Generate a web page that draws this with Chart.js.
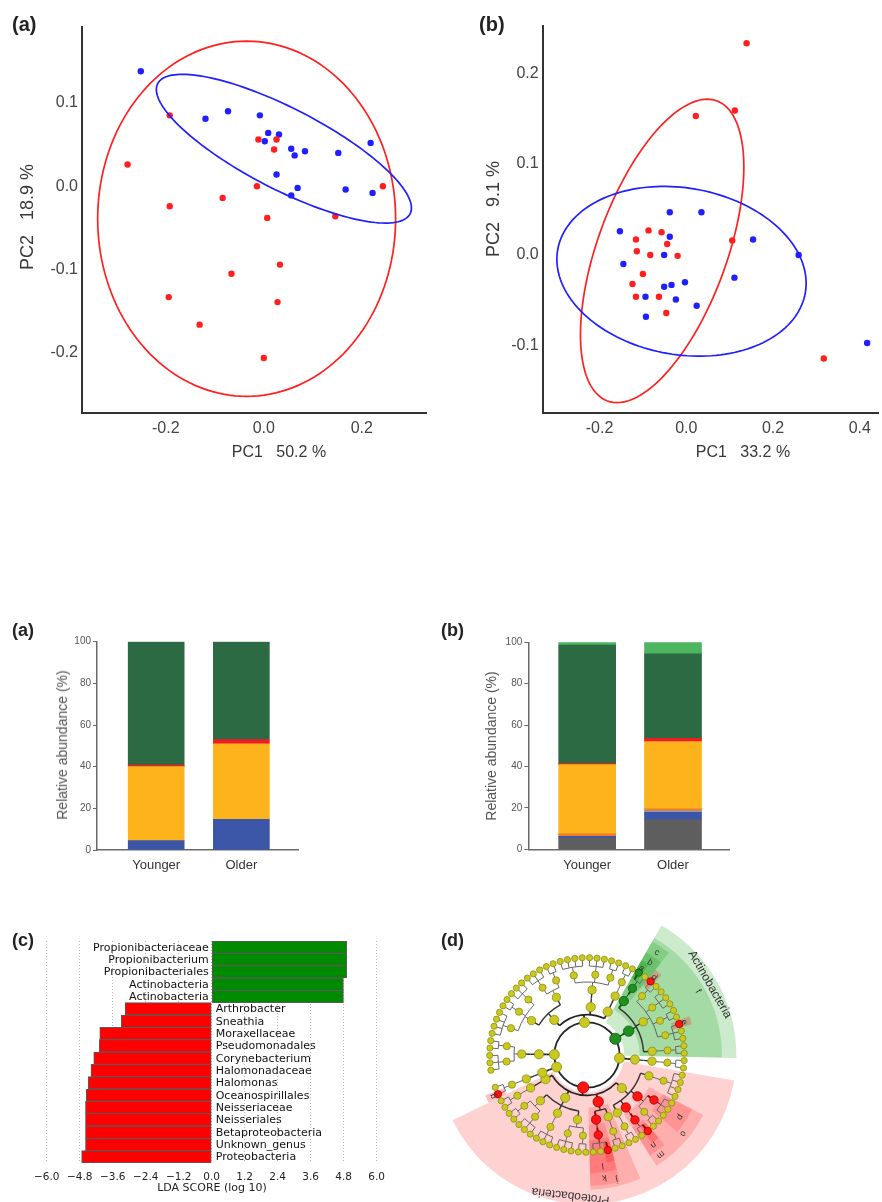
<!DOCTYPE html>
<html><head><meta charset="utf-8">
<script src="https://cdn.jsdelivr.net/npm/chart.js@4.4.1/dist/chart.umd.min.js"></script>
<style>
html,body{margin:0;padding:0;background:#fff;}
body{width:882px;height:1202px;position:relative;overflow:hidden;font-family:"Liberation Sans",Arial,sans-serif;}
canvas{position:absolute;}
.t{position:absolute;white-space:pre;line-height:1;color:#383838;}
.pl{font-weight:bold;color:#222;}
.c{transform:translate(-50%,-50%);}
.r{transform:translate(-50%,-50%) rotate(-90deg);}
</style></head><body>
<canvas id="pa" width="441" height="480" style="left:0;top:0"></canvas>
<canvas id="pb" width="441" height="480" style="left:441px;top:0"></canvas>
<canvas id="ba" width="441" height="270" style="left:0;top:610px"></canvas>
<canvas id="bb" width="441" height="270" style="left:441px;top:610px"></canvas>
<canvas id="lda" width="441" height="282" style="left:0;top:920px"></canvas>
<canvas id="clado" width="340" height="340" style="left:417px;top:885px"></canvas>

<div class="t pl" style="left:12px;top:14px;font-size:20px">(a)</div>
<div class="t pl" style="left:479px;top:14px;font-size:20px">(b)</div>
<div class="t c" style="left:279px;top:452px;font-size:16px">PC1   50.2 %</div>
<div class="t r" style="left:27px;top:217px;font-size:18px">PC2   18.9 %</div>
<div class="t c" style="left:743px;top:452px;font-size:16px">PC1   33.2 %</div>
<div class="t r" style="left:493px;top:209px;font-size:18px">PC2   9.1 %</div>

<div class="t pl" style="left:12px;top:621px;font-size:18px">(a)</div>
<div class="t pl" style="left:441px;top:621px;font-size:18px">(b)</div>
<div class="t r" style="left:62px;top:745px;font-size:14px;color:#555">Relative abundance (%)</div>
<div class="t r" style="left:491px;top:746px;font-size:14px;color:#555">Relative abundance (%)</div>

<div class="t pl" style="left:12px;top:931px;font-size:18px">(c)</div>
<div class="t pl" style="left:441px;top:931px;font-size:18px">(d)</div>
<div class="t c" style="left:212px;top:1187px;font-size:11px;font-family:'DejaVu Sans';color:#222">LDA SCORE (log 10)</div>

<script>
// ---------------- DATA ----------------
// PCA (a)
const pcaA_red = [[-0.192,0.085],[-0.278,0.026],[-0.011,0.056],[0.026,0.056],[0.021,0.044],[-0.014,0.000],[-0.084,-0.014],[-0.192,-0.024],[0.007,-0.038],[0.243,0.000],[0.146,-0.036],[0.033,-0.094],[-0.066,-0.105],[-0.194,-0.133],[0.028,-0.139],[-0.131,-0.166],[0.000,-0.206]];
const pcaA_blue = [[-0.251,0.138],[-0.119,0.081],[-0.073,0.090],[-0.008,0.085],[0.009,0.064],[0.031,0.062],[0.002,0.054],[0.056,0.045],[0.063,0.037],[0.084,0.042],[0.152,0.040],[0.218,0.052],[0.026,0.014],[0.069,-0.002],[0.056,-0.011],[0.167,-0.004],[0.222,-0.008]];
// ellipses: [centerX, centerY, axis1X, axis1Y, axis2X, axis2Y] (data units)
const pcaA_redEllipse = [-0.035,-0.039,0.304,0,0,0.213];
const pcaA_blueEllipse = [0.041,0.045,0.2575,-0.0781,-0.0378,-0.0431];
const pcaA_xTicks = [-0.2,0,0.2];
const pcaA_yTicks = [-0.2,-0.1,0,0.1];
// PCA (b)
const pcaB_red = [[0.139,0.233],[0.022,0.153],[0.112,0.159],[0.106,0.016],[-0.087,0.027],[-0.057,0.025],[-0.116,0.017],[-0.044,0.012],[-0.114,0.004],[-0.083,0.000],[-0.020,-0.001],[-0.100,-0.021],[-0.124,-0.032],[-0.116,-0.046],[-0.063,-0.046],[-0.046,-0.064],[0.317,-0.114]];
const pcaB_blue = [[-0.038,0.047],[0.035,0.047],[-0.153,0.026],[-0.038,0.020],[0.154,0.017],[-0.051,0.000],[0.259,0.000],[-0.145,-0.010],[0.111,-0.025],[-0.003,-0.030],[-0.034,-0.033],[-0.051,-0.035],[-0.094,-0.046],[-0.024,-0.049],[0.024,-0.056],[-0.093,-0.068],[0.417,-0.097]];
const pcaB_redEllipse = [-0.0556,0.0044,0.157,0,0.104,0.167];
const pcaB_blueEllipse = [-0.011,-0.018,0.287,-0.009,-0.013,0.093];
const pcaB_xTicks = [-0.2,0,0.2,0.4];
const pcaB_yTicks = [-0.1,0,0.1,0.2];

// Relative abundance bars
const barCategories = ['Younger','Older'];
const barYTicks = [0,20,40,60,80,100];
const barA_blue = [4.5,14.7];
const barA_orange = [35.5,36.3];
const barA_red = [0.8,2.0];
const barA_darkGreen = [59.2,47.0];
const barB_grey = [5.3,14.2];
const barB_blue = [1.0,3.7];
const barB_lightBlue = [0,0.6];
const barB_orangeRed = [1.2,1.0];
const barB_orange = [33.4,32.5];
const barB_red = [0.5,1.6];
const barB_darkGreen = [57.3,40.8];
const barB_lightGreen = [1.3,5.6];

// LDA
const ldaNames = ['Propionibacteriaceae','Propionibacterium','Propionibacteriales','Actinobacteria','Actinobacteria','Arthrobacter','Sneathia','Moraxellaceae','Pseudomonadales','Corynebacterium','Halomonadaceae','Halomonas','Oceanospirillales','Neisseriaceae','Neisseriales','Betaproteobacteria','Unknown_genus','Proteobacteria'];
const ldaScores = [4.91,4.91,4.91,4.79,4.79,-3.15,-3.29,-4.07,-4.09,-4.29,-4.39,-4.49,-4.56,-4.59,-4.59,-4.59,-4.59,-4.73];
const ldaTicks = [-6,-4.8,-3.6,-2.4,-1.2,0,1.2,2.4,3.6,4.8,6];

// Cladogram: nested clades, node colour y/g/r, optional :letter
const phylumNames = ['Bacteroidetes','Firmicutes','Actinobacteria','Tenericutes','Proteobacteria','Fusobacteria'];
const phylumShowName = [false,false,true,false,true,false];
const phylumTrees = [
 '((((y,y,y)y,(y,y)y)y)y)y',
 '((((y,y,y,y)y,(y,y)y,(y,y,y)y)y,((y,y,y)y,(y,y)y)y)y,(((y,y,y,y)y,(y,y,y)y,(y,y)y)y)y,(((y,y)y)y)y)y',
 '((((g:a,y)g:b)g:c,((r:d,y)y,(y,y,y)y,(y,y)y,(r:e,y,y)y)y,((y,y)y)y)g:f)g',
 '((((y,y)y)y)y)y',
 '((((y,y,y,y)y)y,((y,y,y)r:p,(y,y)y)r:o,((r,y)r:n)r:m,((y,y)y)y)y,(((y,y)y)y,((r,y,y)r:l)r:k)r:j,(((y,y)y,(y,y,y)y)y,((y,y,y)y)y,((y,y,y)y,(y,y)y)y)y,(((y,y)y)y)y)r',
 '((((r:g,y)y)y)y)y'
];

// ---------------- COMMON ----------------
const SANS = '"Liberation Sans", Arial, sans-serif';
Chart.defaults.font.family = SANS;

function ellipsePlugin(list){
  return {id:'ellipses', afterDatasetsDraw(chart){
    const ctx = chart.ctx, xs = chart.scales.x, ys = chart.scales.y;
    ctx.save();
    list.forEach(([e,col])=>{
      ctx.beginPath();
      for(let i=0;i<=160;i++){
        const t = i/160*Math.PI*2;
        const px = xs.getPixelForValue(e[0]+e[2]*Math.cos(t)+e[4]*Math.sin(t));
        const py = ys.getPixelForValue(e[1]+e[3]*Math.cos(t)+e[5]*Math.sin(t));
        if(i===0) ctx.moveTo(px,py); else ctx.lineTo(px,py);
      }
      ctx.closePath(); ctx.strokeStyle = col; ctx.lineWidth = 1.7; ctx.stroke();
    });
    ctx.restore();
  }};
}

function pca(id, red, blue, ells, xr, yr, xt, yt, area, W, H){
  const toPts = a => a.map(p=>({x:p[0],y:p[1]}));
  new Chart(document.getElementById(id), {
    type:'scatter',
    data:{datasets:[
      {data:toPts(red), backgroundColor:'#ff1f1f', pointRadius:3.2, borderWidth:0},
      {data:toPts(blue), backgroundColor:'#1f1fff', pointRadius:3.2, borderWidth:0}
    ]},
    options:{
      responsive:false, animation:false,
      layout:{padding:{left:0,right:W-area.right,top:area.top,bottom:0}},
      plugins:{legend:{display:false}, tooltip:{enabled:false}},
      scales:{
        x:{type:'linear', min:xr[0], max:xr[1],
           grid:{display:false, drawTicks:false},
           border:{display:true, color:'#333', width:2},
           ticks:{padding:6, color:'#444', font:{size:16}, callback:v=>v.toFixed(1)},
           afterBuildTicks:s=>{s.ticks = xt.map(v=>({value:v}));},
           afterFit:s=>{s.height = H-area.bottom;}},
        y:{type:'linear', min:yr[0], max:yr[1],
           grid:{display:false, drawTicks:false},
           border:{display:true, color:'#333', width:2},
           ticks:{padding:4, color:'#444', font:{size:16}, callback:v=>v.toFixed(1)},
           afterBuildTicks:s=>{s.ticks = yt.map(v=>({value:v}));},
           afterFit:s=>{s.width = area.left;}}
      }
    },
    plugins:[ellipsePlugin(ells)]
  });
}

pca('pa', pcaA_red, pcaA_blue, [[pcaA_redEllipse,'#ff2020'],[pcaA_blueEllipse,'#2020ff']],
    [-0.371,0.331], [-0.272,0.191], pcaA_xTicks, pcaA_yTicks, {left:82,right:426,top:27,bottom:413}, 441, 480);
pca('pb', pcaB_red, pcaB_blue, [[pcaB_redEllipse,'#ff2020'],[pcaB_blueEllipse,'#2020ff']],
    [-0.331,0.442], [-0.174,0.252], pcaB_xTicks, pcaB_yTicks, {left:101.7,right:441,top:26,bottom:413}, 441, 480);

// ---------------- STACKED BARS ----------------
function stacked(id, layers, xr, area, W, H, thick){
  new Chart(document.getElementById(id), {
    type:'bar',
    data:{datasets: layers.map(([vals,col])=>({
      data: vals.map((v,i)=>({x:i,y:v})), backgroundColor:col, borderWidth:0,
      barThickness:thick, stack:'s'
    }))},
    options:{
      responsive:false, animation:false,
      layout:{padding:{left:0,right:W-area.right,top:area.top,bottom:0}},
      plugins:{legend:{display:false}, tooltip:{enabled:false}},
      scales:{
        x:{type:'linear', offset:false, min:xr[0], max:xr[1],
           grid:{display:false, drawTicks:false, offset:false},
           border:{display:true, color:'#6a6a6a', width:1.5},
           ticks:{padding:8, color:'#333', font:{size:13}, callback:v=>barCategories[v]},
           afterBuildTicks:s=>{s.ticks = barCategories.map((c,i)=>({value:i}));},
           afterFit:s=>{s.height = H-area.bottom;}},
        y:{type:'linear', stacked:true, min:0, max:100,
           grid:{display:true, drawOnChartArea:false, drawTicks:true, tickLength:4, color:'#6a6a6a', lineWidth:1},
           border:{display:true, color:'#6a6a6a', width:1.5},
           ticks:{padding:2, color:'#555', font:{size:10}},
           afterBuildTicks:s=>{s.ticks = barYTicks.map(v=>({value:v}));},
           afterFit:s=>{s.width = area.left;}}
      }
    }
  });
}
const C_BLUE='#3b56a6', C_ORANGE='#fdb31c', C_RED='#ee1c24', C_DG='#2b6a43', C_LG='#4db460', C_GREY='#5e5e5e', C_LB='#7b9ad6', C_OR='#f37c21';
stacked('ba', [[barA_blue,C_BLUE],[barA_orange,C_ORANGE],[barA_red,C_RED],[barA_darkGreen,C_DG]],
  [-0.695,1.665], {left:97,right:298,top:31.7,bottom:240}, 441, 270, 56);
stacked('bb', [[barB_grey,C_GREY],[barB_blue,C_BLUE],[barB_lightBlue,C_LB],[barB_orangeRed,C_OR],[barB_orange,C_ORANGE],[barB_red,C_RED],[barB_darkGreen,C_DG],[barB_lightGreen,C_LG]],
  [-0.686,1.656], {left:87.3,right:288.3,top:32.3,bottom:239.3}, 441, 270, 57);

// ---------------- LDA ----------------
const ldaLabels = {id:'ldaLabels', afterDatasetsDraw(chart){
  const ctx = chart.ctx, meta = chart.getDatasetMeta(0), x0 = chart.scales.x.getPixelForValue(0);
  ctx.save(); ctx.font = '11px "DejaVu Sans"'; ctx.fillStyle = '#111'; ctx.textBaseline = 'middle';
  meta.data.forEach((bar,i)=>{
    if(ldaScores[i]>0){ctx.textAlign='right'; ctx.fillText(ldaNames[i], x0-3, bar.y+0.5);}
    else {ctx.textAlign='left'; ctx.fillText(ldaNames[i], x0+4, bar.y+0.5);}
  });
  ctx.restore();
}};
new Chart(document.getElementById('lda'), {
  type:'bar',
  data:{labels:ldaNames, datasets:[{data:ldaScores,
    backgroundColor:ldaScores.map(v=>v>0?'#008a00':'#ff0000'),
    borderColor:'#5a5a5a', borderWidth:1, borderSkipped:false,
    barPercentage:1, categoryPercentage:1}]},
  options:{
    indexAxis:'y', responsive:false, animation:false,
    layout:{padding:{left:46.7,right:441-376.7,top:21,bottom:0}},
    plugins:{legend:{display:false}, tooltip:{enabled:false}},
    scales:{
      x:{type:'linear', min:-6, max:6,
         grid:{display:true, drawTicks:false, color:'#b5b5b5', lineWidth:1},
         border:{display:false, dash:[1,2]},
         ticks:{padding:8, color:'#222', font:{size:10.5, family:'"DejaVu Sans"'}, callback:v=>(v<0?'\u2212':'')+Math.abs(v).toFixed(1)},
         afterBuildTicks:s=>{s.ticks = ldaTicks.map(v=>({value:v}));},
         afterFit:s=>{s.height = 282-243;}},
      y:{display:false}
    }
  },
  plugins:[ldaLabels]
});

// ---------------- CLADOGRAM ----------------
const R = [0,1.06,1.56,2.12,2.62,3.16];
const OUT = [0,4.85,4.38,4.25,3.85,3.5];
function parseTree(str){
  const s = str.replace(/\s/g,''); let i=0;
  function node(){
    const n = {children:[]};
    if(s[i]==='('){ i++; n.children.push(node()); while(s[i]===','){ i++; n.children.push(node()); } i++; }
    n.c = s[i++];
    if(s[i]===':'){ i++; n.lab = s[i++]; }
    return n;
  }
  return node();
}
const root = {children: phylumTrees.map((t,k)=>{const p=parseTree(t); p.name=phylumNames[k]; p.show=phylumShowName[k]; return p;}), c:'root'};
let nLeaves=0; (function cnt(n){ if(!n.children.length) nLeaves++; n.children.forEach(cnt); })(root);
const cladoStart = 261, cladoGap = 6, step = (360-cladoGap)/nLeaves;
let li=0; const allNodes=[];
(function lay(n,d,parent){
  n.d=d; n.parent=parent;
  if(!n.children.length){ n.a=cladoStart+li*step; li++; n.a0=n.a-step/2; n.a1=n.a+step/2; }
  else { n.children.forEach(c=>lay(c,d+1,n)); n.a=n.children.reduce((s,c)=>s+c.a,0)/n.children.length; n.a0=n.children[0].a0; n.a1=n.children[n.children.length-1].a1; }
  if(d>0) allNodes.push(n);
})(root,0,null);

const toRad = a => (a-90)*Math.PI/180;
const NODE_COL = {y:['#c9c922','#8d8d12'], g:['#1f8f1f','#115511'], r:['#ff1414','#a00000']};
const SIZE = [0,5,4.6,4.1,3.6,3.1];
function nodePts(col){
  return allNodes.filter(n=>n.c===col).map(n=>({x:R[n.d]*Math.cos(toRad(n.a)), y:-R[n.d]*Math.sin(toRad(n.a)), s:SIZE[n.d]+(col==='y'?0:0.6)}));
}
const cladoPlugin = {id:'clado',
  beforeDatasetsDraw(chart){
    const ctx=chart.ctx, xs=chart.scales.x, ys=chart.scales.y;
    const cx=xs.getPixelForValue(0), cy=ys.getPixelForValue(0), k=xs.getPixelForValue(1)-cx;
    ctx.save();
    allNodes.filter(n=>n.c!=='y').sort((a,b)=>a.d-b.d).forEach(n=>{
      const base = n.c==='g' ? '0,150,0' : '255,30,30';
      let rIn, rOut, al;
      if(!n.children.length){ rIn=R[5]-0.25; rOut=3.55; al=0.28; }
      else { rIn=R[n.d]+0.15; rOut=OUT[n.d]; al=0.2; }
      ctx.beginPath();
      ctx.arc(cx,cy,rOut*k,toRad(n.a0),toRad(n.a1));
      ctx.arc(cx,cy,rIn*k,toRad(n.a1),toRad(n.a0),true);
      ctx.closePath(); ctx.fillStyle='rgba('+base+','+al+')'; ctx.fill();
    });
    ctx.beginPath(); ctx.arc(cx,cy,R[1]*k,0,Math.PI*2); ctx.strokeStyle='#222'; ctx.lineWidth=1.8; ctx.stroke();
    (function edges(n){
      if(!n.children.length) return;
      if(n.d>0){
        const rm=(R[n.d]+R[n.d+1])/2;
        const hl = n.c!=='y';
        const col = n.d<=1?'#222':(n.d===2?'#333':'#666');
        const lw = n.d<=1?1.7:(n.d===2?1.4:1);
        ctx.lineWidth=lw;
        ctx.beginPath();
        ctx.moveTo(cx+R[n.d]*k*Math.cos(toRad(n.a)), cy+R[n.d]*k*Math.sin(toRad(n.a)));
        ctx.lineTo(cx+rm*k*Math.cos(toRad(n.a)), cy+rm*k*Math.sin(toRad(n.a)));
        ctx.strokeStyle = hl? (n.c==='g'?'#0f5f0f':'#a00000') : col; ctx.stroke();
        const amin=n.children[0].a, amax=n.children[n.children.length-1].a;
        if(amax>amin){ ctx.beginPath(); ctx.arc(cx,cy,rm*k,toRad(amin),toRad(amax)); ctx.strokeStyle=col; ctx.stroke(); }
        n.children.forEach(c=>{
          const chl = hl && c.c===n.c;
          ctx.beginPath();
          ctx.moveTo(cx+rm*k*Math.cos(toRad(c.a)), cy+rm*k*Math.sin(toRad(c.a)));
          ctx.lineTo(cx+R[c.d]*k*Math.cos(toRad(c.a)), cy+R[c.d]*k*Math.sin(toRad(c.a)));
          ctx.strokeStyle = chl ? (n.c==='g'?'#0f5f0f':'#a00000') : col;
          ctx.lineWidth = chl ? 2 : lw; ctx.stroke();
        });
      }
      n.children.forEach(edges);
    })(root);
    ctx.restore();
  },
  afterDatasetsDraw(chart){
    const ctx=chart.ctx, xs=chart.scales.x, ys=chart.scales.y;
    const cx=xs.getPixelForValue(0), cy=ys.getPixelForValue(0), k=xs.getPixelForValue(1)-cx;
    ctx.save(); ctx.textAlign='center'; ctx.textBaseline='middle'; ctx.fillStyle='#333';
    allNodes.forEach(n=>{
      let txt=null, r, font;
      if(n.d===1 && n.show){ txt=n.name; r=4.6; font='12px '+SANS; }
      else if(n.lab){ txt=n.lab; r=(n.children.length?OUT[n.d]:3.55)-0.22; font='9px '+SANS; }
      if(!txt) return;
      ctx.save();
      ctx.translate(cx+r*k*Math.cos(toRad(n.a)), cy+r*k*Math.sin(toRad(n.a)));
      ctx.rotate(n.a*Math.PI/180);
      ctx.font=font; ctx.fillText(txt,0,0);
      ctx.restore();
    });
    ctx.restore();
  }
};
const cladoRange = 170/32;
new Chart(document.getElementById('clado'), {
  type:'scatter',
  data:{datasets:['y','g','r'].map(col=>({
    data: nodePts(col),
    backgroundColor: NODE_COL[col][0], borderColor: NODE_COL[col][1], borderWidth:0.8,
    pointRadius: c=>c.raw? c.raw.s : 3, clip:false
  }))},
  options:{
    responsive:false, animation:false,
    layout:{padding:0},
    plugins:{legend:{display:false}, tooltip:{enabled:false}},
    scales:{x:{type:'linear',display:false,min:-cladoRange,max:cladoRange}, y:{type:'linear',display:false,min:-cladoRange,max:cladoRange}}
  },
  plugins:[cladoPlugin]
});
</script>
</body></html>
